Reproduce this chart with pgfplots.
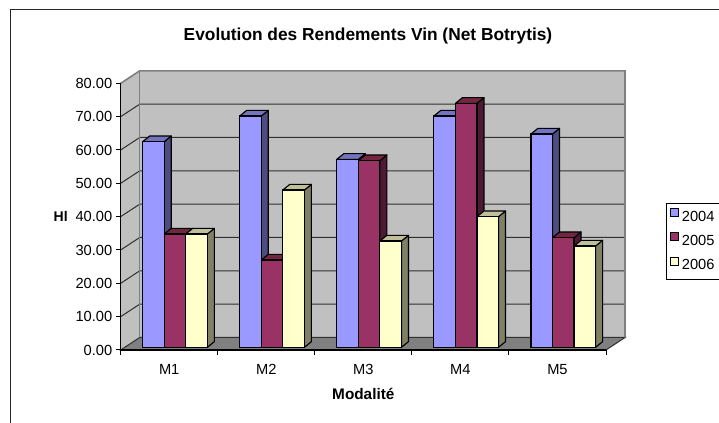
\documentclass[border=0pt]{standalone}
\usepackage{pgfplots}
\pgfplotsset{compat=1.18}
\usepackage{fontspec}
\setmainfont{Liberation Sans}
\definecolor{wall}{HTML}{C0C0C0}
\definecolor{walledge}{HTML}{808080}
\definecolor{gridc}{HTML}{303030}
\definecolor{aF}{HTML}{9999FF}\definecolor{aS}{HTML}{4D4D80}\definecolor{aT}{HTML}{7373BF}
\definecolor{bF}{HTML}{993366}\definecolor{bS}{HTML}{4D1A33}\definecolor{bT}{HTML}{732640}
\definecolor{cF}{HTML}{FFFFCC}\definecolor{cS}{HTML}{808066}\definecolor{cT}{HTML}{BFBF99}
% one extruded bar: #1 left edge, #2 value, #3 side colour, #4 top colour
\newcommand\extr[4]{%
 \addplot[forget plot,yshift=2pt,fill=#3,draw=black,line width=.85pt,line join=round] coordinates {({#1+0.222},#2) ({#1+0.294},{#2+1.7}) ({#1+0.294},1.7) ({#1+0.222},0)} -- cycle;
 \addplot[forget plot,yshift=2pt,fill=#4,draw=black,line width=.85pt,line join=round] coordinates {(#1,#2) ({#1+0.072},{#2+1.7}) ({#1+0.294},{#2+1.7}) ({#1+0.222},#2)} -- cycle;
}
\newcommand\gl[1]{%
 \addplot[forget plot,gridc,line width=.75pt] coordinates {(0,#1) (0.196,{#1+3.75}) (5.196,{#1+3.75})};
}
\begin{document}
\begin{tikzpicture}
\useasboundingbox (0,0) rectangle (539.25pt,-317.25pt);
\clip (0,0) rectangle (539.25pt,-317.25pt);
\draw[color=black!85,line width=.85pt] (8pt,-320pt) -- (8pt,-7pt) -- (545pt,-7pt);
\begin{axis}[
 at={(90.5pt,-262.5pt)},anchor=origin,
 scale only axis,width=364pt,height=200pt,
 xmin=0,xmax=5,ymin=0,ymax=80,clip=false,
 axis x line*=bottom,axis y line*=left,
 axis line style={-,black,line width=.85pt},
 axis on top,
 tick align=outside,
 tick style={black,line width=.75pt},
 major tick length=3.75pt,
 xtick={0,1,2,3,4,5},
 xticklabels={},
 extra x ticks={0.5,1.5,2.5,3.5,4.5},
 extra x tick labels={M1,M2,M3,M4,M5},
 extra x tick style={major tick length=0pt,xticklabel style={yshift=-7pt}},
 ytick={0,10,...,80},
 /pgf/number format/.cd,fixed,fixed zerofill,precision=2,assume math mode=true,
 /pgfplots/.cd,
 tick label style={font=\fontsize{11}{13}\selectfont},
 yticklabel style={xshift=1pt},
 title={\textbf{Evolution des Rendements Vin (Net Botrytis)}},
 title style={font=\fontsize{13}{15}\selectfont,at={(0.5,1)},anchor=center,yshift=29.5pt,xshift=3.5pt},
 xlabel={\textbf{Modalité}},
 xlabel style={font=\fontsize{11.5}{13}\selectfont,at={(0.5,0)},anchor=center,yshift=-33pt},
 ylabel={\textbf{Hl}},
 ylabel style={font=\fontsize{10.5}{13}\selectfont,rotate=-90,at={(0,0.5)},anchor=center,xshift=-45pt},
 legend style={at={(1.123,0.552)},anchor=north west,draw=black,line width=.75pt,
   font=\fontsize{11}{13}\selectfont,row sep=4.8pt,inner xsep=3pt,inner ysep=3.5pt,
   nodes={yshift=-1.5pt},
   /tikz/every even column/.append style={column sep=4pt}},
 legend cell align=left,
 legend image code/.code={\draw[#1,line width=.75pt,draw=black] (0pt,-3pt) rectangle (6pt,3pt);},
]
% walls and floor
\addplot[forget plot,fill=wall,draw=none] coordinates {(0,0) (0.196,3.75) (5.196,3.75) (5.196,83.75) (0.196,83.75) (0,80)} -- cycle;
\addplot[forget plot,fill=walledge,draw=gridc,line width=.75pt] coordinates {(0,0) (5,0) (5.196,3.75) (0.196,3.75)} -- cycle;
\gl{10}\gl{20}\gl{30}\gl{40}\gl{50}\gl{60}\gl{70}
\addplot[forget plot,walledge,line width=1.2pt] coordinates {(0,80) (0.196,83.75) (5.196,83.75) (5.196,3.75)};
\addplot[forget plot,walledge,line width=1.2pt] coordinates {(0.196,83.75) (0.196,3.75)};
% 2004
\extr{0.227}{61.7}{aS}{aT}\extr{1.227}{69.4}{aS}{aT}\extr{2.227}{56.4}{aS}{aT}\extr{3.227}{69.4}{aS}{aT}\extr{4.227}{64.0}{aS}{aT}
\addplot[ybar,bar width=0.222,bar shift=0pt,yshift=2pt,fill=aF,draw=black,line width=.85pt] coordinates {(0.338,61.7) (1.338,69.4) (2.338,56.4) (3.338,69.4) (4.338,64.0)};
\addlegendentry{2004}
% 2005
\extr{0.449}{34.0}{bS}{bT}\extr{1.449}{26.2}{bS}{bT}\extr{2.449}{56.0}{bS}{bT}\extr{3.449}{73.2}{bS}{bT}\extr{4.449}{32.9}{bS}{bT}
\addplot[ybar,bar width=0.222,bar shift=0pt,yshift=2pt,fill=bF,draw=black,line width=.85pt] coordinates {(0.560,34.0) (1.560,26.2) (2.560,56.0) (3.560,73.2) (4.560,32.9)};
\addlegendentry{2005}
% 2006
\extr{0.671}{34.0}{cS}{cT}\extr{1.671}{47.2}{cS}{cT}\extr{2.671}{31.9}{cS}{cT}\extr{3.671}{39.2}{cS}{cT}\extr{4.671}{30.4}{cS}{cT}
\addplot[ybar,bar width=0.222,bar shift=0pt,yshift=2pt,fill=cF,draw=black,line width=.85pt] coordinates {(0.782,34.0) (1.782,47.2) (2.782,31.9) (3.782,39.2) (4.782,30.4)};
\addlegendentry{2006}
\end{axis}
\end{tikzpicture}
\end{document}
